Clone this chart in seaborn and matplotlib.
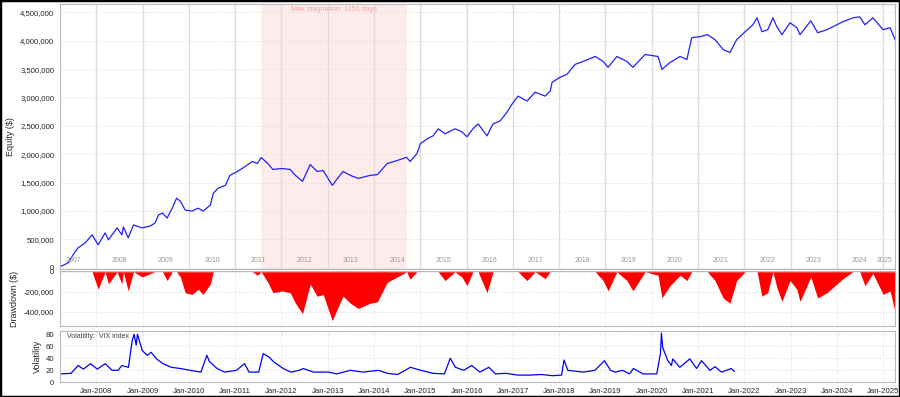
import numpy as np
import pandas as pd
import seaborn as sns
import matplotlib.pyplot as plt
import matplotlib.dates as mdates
from matplotlib.ticker import FuncFormatter, FixedLocator
from matplotlib.patches import Rectangle

# equity curve (dates, $ thousands)
equity_dates = [
    '2007-03-21', '2007-04-10', '2007-05-25', '2007-07-01', '2007-08-10', '2007-10-05', '2007-11-28',
    '2008-01-15', '2008-03-10', '2008-04-05', '2008-06-12', '2008-07-20', '2008-08-01', '2008-09-08',
    '2008-10-20', '2008-12-28', '2009-03-01', '2009-04-08', '2009-05-05', '2009-06-06', '2009-07-12',
    '2009-08-22', '2009-09-25', '2009-10-25', '2009-12-02', '2010-01-25', '2010-03-15', '2010-04-22',
    '2010-06-18', '2010-07-12', '2010-08-18', '2010-10-15', '2010-11-20', '2011-01-18', '2011-03-20',
    '2011-05-15', '2011-06-25', '2011-07-25', '2011-09-15', '2011-10-25', '2012-01-05', '2012-03-10',
    '2012-04-20', '2012-06-15', '2012-08-15', '2012-10-08', '2012-11-25', '2013-02-05', '2013-03-18',
    '2013-05-01', '2013-06-28', '2013-08-28', '2013-12-01', '2014-01-27', '2014-04-15', '2014-07-01',
    '2014-09-15', '2014-10-12', '2014-12-05', '2015-01-01', '2015-02-25', '2015-04-12', '2015-05-22',
    '2015-07-15', '2015-10-01', '2015-11-25', '2016-01-04', '2016-02-20', '2016-04-01', '2016-06-10',
    '2016-07-28', '2016-09-22', '2016-11-16', '2016-12-25', '2017-02-10', '2017-04-22', '2017-06-25',
    '2017-09-12', '2017-10-22', '2017-11-06', '2018-01-08', '2018-03-03', '2018-05-07', '2018-07-08',
    '2018-10-12', '2018-12-14', '2019-01-22', '2019-04-01', '2019-06-20', '2019-08-06', '2019-11-10',
    '2020-02-20', '2020-03-22', '2020-05-25', '2020-08-12', '2020-10-05', '2020-11-12', '2021-01-18',
    '2021-03-15', '2021-05-15', '2021-07-18', '2021-09-10', '2021-11-02', '2022-01-08', '2022-03-10',
    '2022-04-12', '2022-05-20', '2022-07-05', '2022-08-15', '2022-09-15', '2022-10-25', '2022-12-28',
    '2023-02-20', '2023-03-17', '2023-06-10', '2023-08-03', '2023-10-15', '2023-12-01', '2024-02-18',
    '2024-05-08', '2024-07-01', '2024-08-10', '2024-10-12', '2025-01-01', '2025-02-25', '2025-04-05',
]
equity_k = [
    20, 35, 87, 227, 350, 437, 577,
    402, 612, 490, 700, 577, 717, 525,
    752, 700, 734, 787, 927, 962, 874,
    1049, 1224, 1171, 1014, 997, 1049, 997,
    1101, 1311, 1399, 1451, 1626, 1696, 1783,
    1871, 1836, 1941, 1836, 1731, 1748, 1731,
    1626, 1521, 1818, 1696, 1713, 1451, 1573,
    1696, 1626, 1573, 1626, 1640, 1836, 1888,
    1945, 1871, 2010, 2185, 2273, 2325, 2448,
    2360, 2448, 2395, 2308, 2448, 2535, 2325,
    2535, 2587, 2745, 2885, 3025, 2937, 3094,
    3025, 3112, 3269, 3357, 3409, 3584, 3636,
    3724, 3636, 3532, 3724, 3636, 3532, 3759,
    3724, 3497, 3619, 3724, 3671, 4056, 4074,
    4109, 4021, 3846, 3794, 4021, 4161, 4283,
    4406, 4161, 4196, 4406, 4248, 4109, 4318,
    4231, 4109, 4353, 4143, 4196, 4248, 4336,
    4406, 4423, 4283, 4406, 4196, 4231, 4021,
]

# VIX index
vix_dates = [
    '2007-03-21', '2007-06-15', '2007-08-10', '2007-09-20', '2007-11-15', '2008-01-08', '2008-03-10',
    '2008-05-05', '2008-06-20', '2008-07-20', '2008-09-10', '2008-10-10', '2008-10-25', '2008-11-10',
    '2008-11-20', '2008-12-28', '2009-02-05', '2009-03-08', '2009-04-20', '2009-06-10', '2009-08-15',
    '2009-10-25', '2010-01-10', '2010-04-05', '2010-05-22', '2010-06-10', '2010-08-10', '2010-10-10',
    '2011-01-10', '2011-03-15', '2011-04-20', '2011-07-05', '2011-08-10', '2011-09-25', '2011-11-01',
    '2012-01-15', '2012-03-15', '2012-05-20', '2012-06-20', '2012-09-10', '2013-01-10', '2013-03-10',
    '2013-06-28', '2013-10-05', '2014-02-05', '2014-04-15', '2014-07-05', '2014-10-15', '2015-01-05',
    '2015-04-10', '2015-07-10', '2015-08-25', '2015-10-05', '2015-12-10', '2016-02-10', '2016-04-15',
    '2016-06-25', '2016-08-15', '2016-11-05', '2017-02-10', '2017-05-15', '2017-08-15', '2017-11-10',
    '2018-01-20', '2018-02-08', '2018-03-10', '2018-07-10', '2018-10-10', '2018-12-24', '2019-02-10',
    '2019-03-20', '2019-05-15', '2019-07-10', '2019-08-10', '2019-10-25', '2020-02-10', '2020-03-10',
    '2020-03-18', '2020-03-28', '2020-05-05', '2020-06-05', '2020-06-15', '2020-08-10', '2020-10-28',
    '2020-12-20', '2021-01-28', '2021-04-05', '2021-05-15', '2021-07-05', '2021-09-20', '2021-10-15',
]
vix_vals = [
    14, 15, 28, 22, 31, 22, 31,
    20, 20, 28, 25, 70, 80, 62,
    80, 53, 45, 50, 39, 31, 25,
    23, 20, 17, 45, 35, 23, 17,
    20, 31, 17, 17, 48, 42, 34,
    23, 17, 20, 23, 17, 17, 14,
    20, 17, 20, 15, 13, 25, 20,
    15, 14, 40, 25, 20, 28, 17,
    25, 14, 15, 12, 12, 13, 11,
    12, 37, 20, 17, 20, 36, 20,
    17, 20, 14, 23, 14, 14, 48,
    82, 58, 37, 28, 39, 25, 39,
    23, 36, 20, 26, 17, 23, 18,
]

year_labels = [str(y) for y in range(2007, 2026)]
vix_ticks = [0, 20, 40, 60, 80]
stagnation = ('2011-07-25', '2014-09-15')
stagnation_text = 'Max stagnation: 1151 days'

eq = pd.DataFrame({'date': pd.to_datetime(equity_dates), 'equity': np.array(equity_k) * 1000.0})
eq['drawdown'] = eq['equity'] - eq['equity'].cummax()
vix = pd.DataFrame({'date': pd.to_datetime(vix_dates), 'vix': vix_vals})

sns.set_style('white')
plt.rcParams['font.family'] = ['Liberation Sans', 'DejaVu Sans']

fig = plt.figure(figsize=(9, 3.97), dpi=100)
ax1 = fig.add_axes([0.0667, 0.3224, 0.9278, 0.6676])
ax2 = fig.add_axes([0.0667, 0.1785, 0.9278, 0.1395], sharex=ax1)
ax3 = fig.add_axes([0.0667, 0.0370, 0.9278, 0.1300], sharex=ax1)

xmin, xmax = pd.Timestamp('2007-03-20'), pd.Timestamp('2025-04-05')
jan_ticks = [pd.Timestamp(f'{y}-01-01') for y in range(2008, 2026)]
comma = FuncFormatter(lambda v, p: f'{v:,.0f}')
grid_c = '#d8d8d8'

for ax in (ax1, ax2, ax3):
    for s in ax.spines.values():
        s.set_color('#b8b8b8')
        s.set_linewidth(0.8)
    ax.grid(True, axis='y', linestyle=(0, (1, 2)), color=grid_c, linewidth=0.7)
    ax.tick_params(axis='both', labelsize=5.6, length=2, pad=2, color='#888888')
    for t in jan_ticks:
        ax.axvline(t, color=grid_c, linestyle=(0, (1, 2)), linewidth=0.7, zorder=0)

# top panel: equity
ax1.axvspan(pd.Timestamp(stagnation[0]), pd.Timestamp(stagnation[1]), color='#fdeceb', zorder=0, lw=0)
for t in jan_ticks:
    ax1.axvline(t, color='#dddddd', linewidth=1.0, zorder=0.5)
sns.lineplot(data=eq, x='date', y='equity', ax=ax1, color='#2020ff', linewidth=0.9)
ax1.set_ylim(-25000, 4650000)
ax1.yaxis.set_major_locator(FixedLocator(np.arange(0, 4500001, 500000)))
ax1.yaxis.set_major_formatter(comma)
ax1.set_ylabel('Equity ($)', fontsize=6.5, labelpad=4)
ax1.set_xlabel('')
ax1.tick_params(axis='x', labelbottom=False, length=0)
mid_stag = pd.Timestamp(stagnation[0]) + (pd.Timestamp(stagnation[1]) - pd.Timestamp(stagnation[0])) / 2
ax1.text(mid_stag, 4560000, stagnation_text, ha='center', va='center', fontsize=5.2, color='#f4a4a4')
for lab in year_labels:
    pos = pd.Timestamp(f'{lab}-07-01')
    pos = min(max(pos, xmin + pd.Timedelta(days=95)), xmax - pd.Timedelta(days=80))
    ax1.text(pos, 120000, lab, ha='center', va='center', fontsize=5, color='#999999')

# middle panel: drawdown
ax2.fill_between(eq['date'], eq['drawdown'], 0, color='#ff0000', linewidth=0)
ax2.set_ylim(-545000, 10000)
ax2.yaxis.set_major_locator(FixedLocator([0, -200000, -400000]))
ax2.yaxis.set_major_formatter(comma)
ax2.set_ylabel('Drawdown ($)', fontsize=6.5, labelpad=4)
ax2.tick_params(axis='x', labelbottom=False, length=0)

# bottom panel: VIX
sns.lineplot(data=vix, x='date', y='vix', ax=ax3, color='#0000ff', linewidth=0.9)
ax3.set_ylim(0, 86)
ax3.yaxis.set_major_locator(FixedLocator(vix_ticks))
ax3.set_ylabel('Volatility', fontsize=6.5, labelpad=3)
ax3.set_xlabel('')
ax3.set_xticks(jan_ticks)
ax3.xaxis.set_major_formatter(mdates.DateFormatter('Jan-%Y'))
ax3.text(0.008, 0.88, 'Volatility:  VIX index', transform=ax3.transAxes, fontsize=5,
         color='#444444', va='center', ha='left')
ax3.set_xlim(xmin, xmax)

fig.add_artist(Rectangle((0, 0), 1, 1, transform=fig.transFigure, fill=False,
                         edgecolor='black', linewidth=2.5))

fig.savefig('out.png', dpi=100)
